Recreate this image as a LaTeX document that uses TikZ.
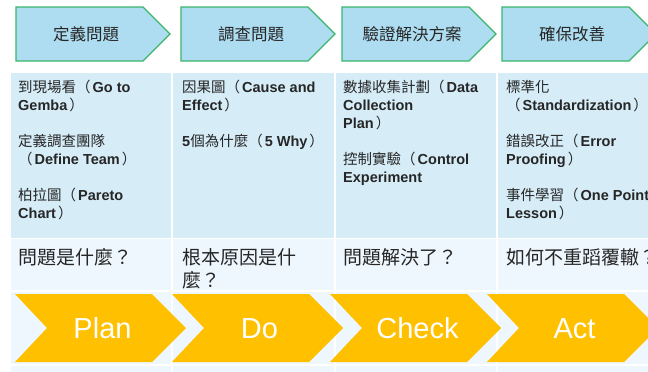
\documentclass[tikz,border=0pt]{standalone}
\usepackage{fontspec}
\setmainfont{Liberation Sans}
\newfontfamily\cjk{Noto Sans CJK TC}
\newcommand\zh[1]{{\cjk\mdseries #1}}
\newcommand\lpar{\zh{（}\hspace{2pt}}
\newcommand\rpar{\hspace{2pt}\zh{）}}
\definecolor{pentfill}{HTML}{AEDDF1}
\definecolor{pentline}{HTML}{3BB56C}
\definecolor{rowA}{HTML}{D6EDF8}
\definecolor{rowB}{HTML}{EEF7FD}
\definecolor{gold}{HTML}{FFC000}
\definecolor{txt}{HTML}{262626}
\begin{document}
\begin{tikzpicture}[x=1pt,y=-1pt,
 pent/.style={fill=pentfill, draw=pentline, line width=1.2pt, line join=miter},
 chev/.style={fill=gold},
 pentlabel/.style={anchor=base, inner sep=0pt, font=\cjk\fontsize{16.5}{20}\selectfont, text=txt},
 celltext/.style={anchor=base west, inner sep=0pt, align=left, font=\fontsize{14.5}{18}\selectfont\bfseries, text=txt},
 qtext/.style={anchor=base west, inner sep=0pt, align=left, font=\cjk\fontsize{19}{23}\selectfont, text=txt},
 chevlabel/.style={anchor=base, inner sep=0pt, font=\fontsize{29}{32}\selectfont, text=white},
 sep/.style={white, line width=1.5pt}]
\useasboundingbox (0,0) rectangle (648,372);
\clip (0,0) rectangle (648,372);
\fill[white] (0,0) rectangle (648,372);
% table
\fill[rowA] (11,73) rectangle (700,238.5);
\fill[rowB] (11,238.5) rectangle (700,380);
\foreach \yy in {238.5,291,365} \draw[sep] (11,\yy) -- (700,\yy);
\foreach \xx in {172,335,497} \draw[sep] (\xx,73) -- (\xx,380);
% top pentagons
\foreach \L in {16,181,342,502}
  \draw[pent] (\L,7) -- (\L+127,7) -- (\L+154,34) -- (\L+127,61) -- (\L,61) -- cycle;
\node[pentlabel] (p1) at (86,40.3) {定義問題};
\node[pentlabel] (p2) at (251,40.3) {調查問題};
\node[pentlabel] (p3) at (412,40.3) {驗證解決方案};
\node[pentlabel] (p4) at (572,40.3) {確保改善};
% row 1 cells (anchored at the baseline of their last line)
\node[celltext] (c1) at (18,218.5) {\zh{到現場看}\lpar Go to\\Gemba\rpar\\[18pt]\zh{定義調查團隊}\\\lpar Define Team\rpar\\[18pt]\zh{柏拉圖}\lpar Pareto\\Chart\rpar};
\node[celltext] (c2) at (182,146.5) {\zh{因果圖}\lpar Cause and\\Effect\rpar\\[18pt]5\zh{個為什麼}\lpar 5 Why\rpar};
\node[celltext] (c3) at (343,182.5) {\zh{數據收集計劃}\lpar Data\\Collection\\Plan\rpar\\[18pt]\zh{控制實驗}\lpar Control\\Experiment};
\node[celltext] (c4) at (506,218.5) {\zh{標準化}\\\lpar Standardization\rpar\\[18pt]\zh{錯誤改正}\lpar Error\\Proofing\rpar\\[18pt]\zh{事件學習}\lpar One Point\\Lesson\rpar};
% row 2 questions
\node[qtext] (q1) at (18,264.2) {問題是什麼？};
\node[qtext] (q2) at (182,287.2) {根本原因是什\\麼？};
\node[qtext] (q3) at (343,264.2) {問題解決了？};
\node[qtext] (q4) at (506,264.2) {如何不重蹈覆轍？};
% chevrons
\foreach \L in {15,172,330,487}
  \fill[chev] (\L,294) -- (\L+137,294) -- (\L+171,328) -- (\L+137,362) -- (\L,362) -- (\L+32,328) -- cycle;
\node[chevlabel] (plan) at (102.5,338.4) {Plan};
\node[chevlabel] (do) at (259.5,338.4) {Do};
\node[chevlabel] (check) at (417.5,338.4) {Check};
\node[chevlabel] (act) at (574.5,338.4) {Act};
\end{tikzpicture}
\end{document}
